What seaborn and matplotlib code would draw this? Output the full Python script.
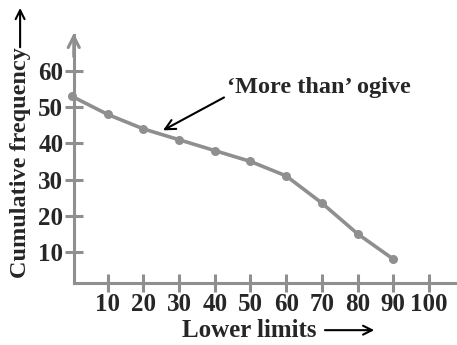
import matplotlib
matplotlib.use('Agg')
import matplotlib.pyplot as plt
import pandas as pd
import seaborn as sns

# data
lower_limits = [0, 10, 20, 30, 40, 50, 60, 70, 80, 90]
cum_freq = [53, 48, 44, 41, 38, 35, 31, 23.5, 15, 8]
x_ticks = [10, 20, 30, 40, 50, 60, 70, 80, 90, 100]
y_ticks = [10, 20, 30, 40, 50, 60]

df = pd.DataFrame({'lower': lower_limits, 'cf': cum_freq})

sns.set_style('white')
plt.rcParams['font.family'] = ['Liberation Serif', 'DejaVu Serif']
plt.rcParams['font.weight'] = 'bold'

grey = '#8f8f8f'

fig = plt.figure(figsize=(4.57, 3.45), dpi=100)
ax = fig.add_axes([0.1575, 0.165, 0.8437, 0.755])
ax.set_xlim(0, 108)
ax.set_ylim(0, 72)

sns.lineplot(data=df, x='lower', y='cf', ax=ax, color=grey, linewidth=2.6,
             marker='o', markersize=6.5, markeredgewidth=0, clip_on=False)

# axes as grey lines with arrow heads
for s in ['top', 'right']:
    ax.spines[s].set_visible(False)
ax.spines['left'].set_position(('data', 0.5))
ax.spines['bottom'].set_position(('data', 1.4))
ax.spines['left'].set_bounds(1.4, 70)
ax.spines['bottom'].set_bounds(0.5, 108)
for s in ['left', 'bottom']:
    ax.spines[s].set_color(grey)
    ax.spines[s].set_linewidth(2.2)
ax.annotate('', xy=(0.5, 70.5), xytext=(0.5, 64),
            arrowprops=dict(arrowstyle='->', color=grey, lw=2.2,
                            mutation_scale=20, shrinkA=0, shrinkB=0))

ax.set_xticks(x_ticks)
ax.set_yticks(y_ticks)
ax.tick_params(bottom=True, left=True, direction='inout', length=13,
               width=2.2, color=grey, labelsize=18, pad=1)
for lab in ax.get_xticklabels() + ax.get_yticklabels():
    lab.set_fontweight('bold')
ax.set_xlabel('')
ax.set_ylabel('')

# annotation
ax.annotate('\u2018More than\u2019 ogive', xy=(25.5, 43.6), xytext=(43.5, 55.5),
            fontsize=17.5, fontweight='bold', va='center', ha='left',
            arrowprops=dict(arrowstyle='->', color='black', lw=1.5,
                            mutation_scale=18, shrinkA=0, shrinkB=0,
                            relpos=(0, 0.1)))

# axis titles with arrows
fig.text(0.398, 0.043, 'Lower limits', fontsize=18, fontweight='bold',
         ha='left', va='center')
fig.patches.append(matplotlib.patches.FancyArrowPatch(
    (0.705, 0.043), (0.825, 0.043), transform=fig.transFigure,
    arrowstyle='->', mutation_scale=16, lw=1.5, color='black'))
fig.text(0.044, 0.53, 'Cumulative frequency', fontsize=17.5, fontweight='bold',
         rotation=90, ha='center', va='center')
fig.patches.append(matplotlib.patches.FancyArrowPatch(
    (0.044, 0.855), (0.044, 0.985), transform=fig.transFigure,
    arrowstyle='->', mutation_scale=16, lw=1.5, color='black'))

fig.savefig('out.png', dpi=100)
